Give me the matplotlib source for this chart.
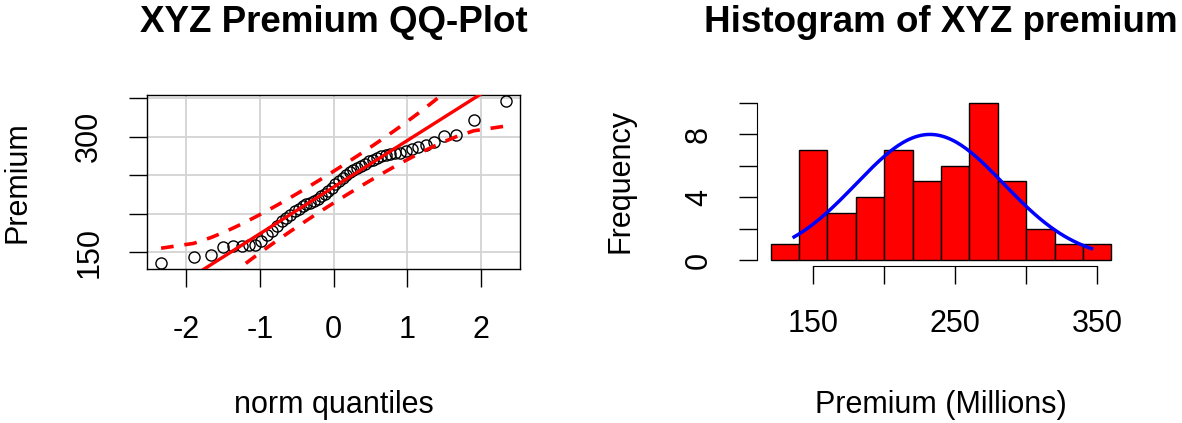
import numpy as np
import matplotlib
matplotlib.use("Agg")
import matplotlib.pyplot as plt
from statistics import NormalDist

plt.rcParams['font.family'] = ['Liberation Sans', 'DejaVu Sans']

premium = [136.5,
           144, 146, 157, 158, 158, 159, 159.5,
           165, 172, 178,
           184, 190, 195, 198,
           203, 206, 210, 212, 214, 217, 219,
           223, 226, 229, 233, 238,
           243, 247, 251, 254, 257, 259,
           262, 265, 268, 270, 273, 275, 277, 278, 279, 279.5,
           282, 284, 287, 290, 293,
           301, 302,
           322,
           346]
hist_breaks = [120, 140, 160, 180, 200, 220, 240, 260, 280, 300, 320, 340, 360]
qq_xticks = [-2, -1, 0, 1, 2]
qq_yticks = [150, 200, 250, 300, 350]
qq_ylabels = ['150', '', '', '300', '']
hist_yticks = [0, 2, 4, 6, 8, 10]
hist_ylabels = ['0', '', '4', '', '8', '']
hist_xticks = [150, 200, 250, 300, 350]
hist_xlabels = ['150', '', '250', '', '350']

y = np.sort(np.array(premium))
n = len(y)
nd = NormalDist()
P = (np.arange(1, n + 1) - 0.5) / n
z = np.array([nd.inv_cdf(p) for p in P])

# quartile line + pointwise 95% envelope (like car::qqPlot)
q1, q3 = np.percentile(y, [25, 75])
slope = (q3 - q1) / (nd.inv_cdf(0.75) - nd.inv_cdf(0.25))
intercept = q1 - slope * nd.inv_cdf(0.25)
dens = np.array([nd.pdf(v) for v in z])
se = slope / dens * np.sqrt(P * (1 - P) / n)
fit = intercept + slope * z
zz = nd.inv_cdf(0.975)

W, H = 1182, 423
fig = plt.figure(figsize=(W / 100, H / 100), dpi=100)

def px_axes(left, top, right, bottom):
    return fig.add_axes([left / W, 1 - bottom / H, (right - left) / W, (bottom - top) / H])

fs = 22
# ---- QQ plot
ax1 = px_axes(147.3, 95, 520, 269)
ax1.set_xlim(z.min() - 0.04 * (z.max() - z.min()), z.max() + 0.04 * (z.max() - z.min()))
ax1.set_ylim(y.min() - 0.04 * (y.max() - y.min()), y.max() + 0.04 * (y.max() - y.min()))
for t in qq_xticks:
    ax1.axvline(t, color='#d3d3d3', lw=1.3, zorder=0)
for t in qq_yticks:
    ax1.axhline(t, color='#d3d3d3', lw=1.3, zorder=0)
ax1.plot(z, y, 'o', mfc='none', mec='black', ms=8, mew=1.0, zorder=3)
xl = np.array(ax1.get_xlim())
ax1.plot(xl, intercept + slope * xl, color='red', lw=2.4, zorder=4)
ax1.plot(z, fit + zz * se, color='red', lw=2.6, ls=(0, (3.5, 3)), zorder=4)
ax1.plot(z, fit - zz * se, color='red', lw=2.6, ls=(0, (3.5, 3)), zorder=4)
ax1.set_xticks(qq_xticks)
ax1.set_xticklabels([str(t) for t in qq_xticks])
ax1.set_yticks(qq_yticks)
ax1.set_yticklabels(qq_ylabels, rotation=90, va='center')
ax1.tick_params(direction='out', length=13, width=1, labelsize=fs, pad=18)
ax1.tick_params(axis='x', pad=20)
for s in ax1.spines.values():
    s.set_linewidth(1)
ax1.set_xlabel('norm quantiles', fontsize=fs, va='center')
ax1.xaxis.set_label_coords(0.5, -(405 - 269) / 174)
ax1.set_ylabel('Premium', fontsize=fs, va='center')
ax1.yaxis.set_label_coords((18 - 147.3) / 372.7, 0.5)
ax1.set_title('XYZ Premium QQ-Plot', fontsize=26.5, fontweight='bold',
              y=(269 - 32) / 174, va='baseline', pad=0)

# ---- histogram
ax2 = px_axes(757, 96.4, 1125, 266.3)
ax2.hist(y, bins=hist_breaks, color='red', edgecolor='black', linewidth=1)
mu, sd = y.mean(), y.std(ddof=1)
xs = np.linspace(y.min(), y.max(), 200)
binw = hist_breaks[1] - hist_breaks[0]
ys = np.array([NormalDist(mu, sd).pdf(v) for v in xs]) * n * binw
ax2.plot(xs, ys, color='blue', lw=2.5)
ax2.set_xlim(110.4, 369.6)
ax2.set_ylim(-0.4, 10.4)
ax2.spines['top'].set_visible(False)
ax2.spines['right'].set_visible(False)
ax2.spines['left'].set_bounds(0, 10)
ax2.spines['bottom'].set_bounds(150, 350)
ax2.set_xticks(hist_xticks)
ax2.set_xticklabels(hist_xlabels)
ax2.set_yticks(hist_yticks)
ax2.set_yticklabels(hist_ylabels, rotation=90, va='center')
ax2.tick_params(direction='out', length=13, width=1, labelsize=fs, pad=18)
ax2.set_xlabel('Premium (Millions)', fontsize=fs, va='center')
ax2.xaxis.set_label_coords(0.5, -(405 - 266.3) / 169.9)
ax2.set_ylabel('Frequency', fontsize=fs, va='center')
ax2.yaxis.set_label_coords((620 - 757) / 368, 0.5)
ax2.set_title('Histogram of XYZ premium', fontsize=26.5, fontweight='bold',
              y=(266.3 - 32) / 169.9, va='baseline', pad=0)

fig.savefig('out.png', dpi=100)
